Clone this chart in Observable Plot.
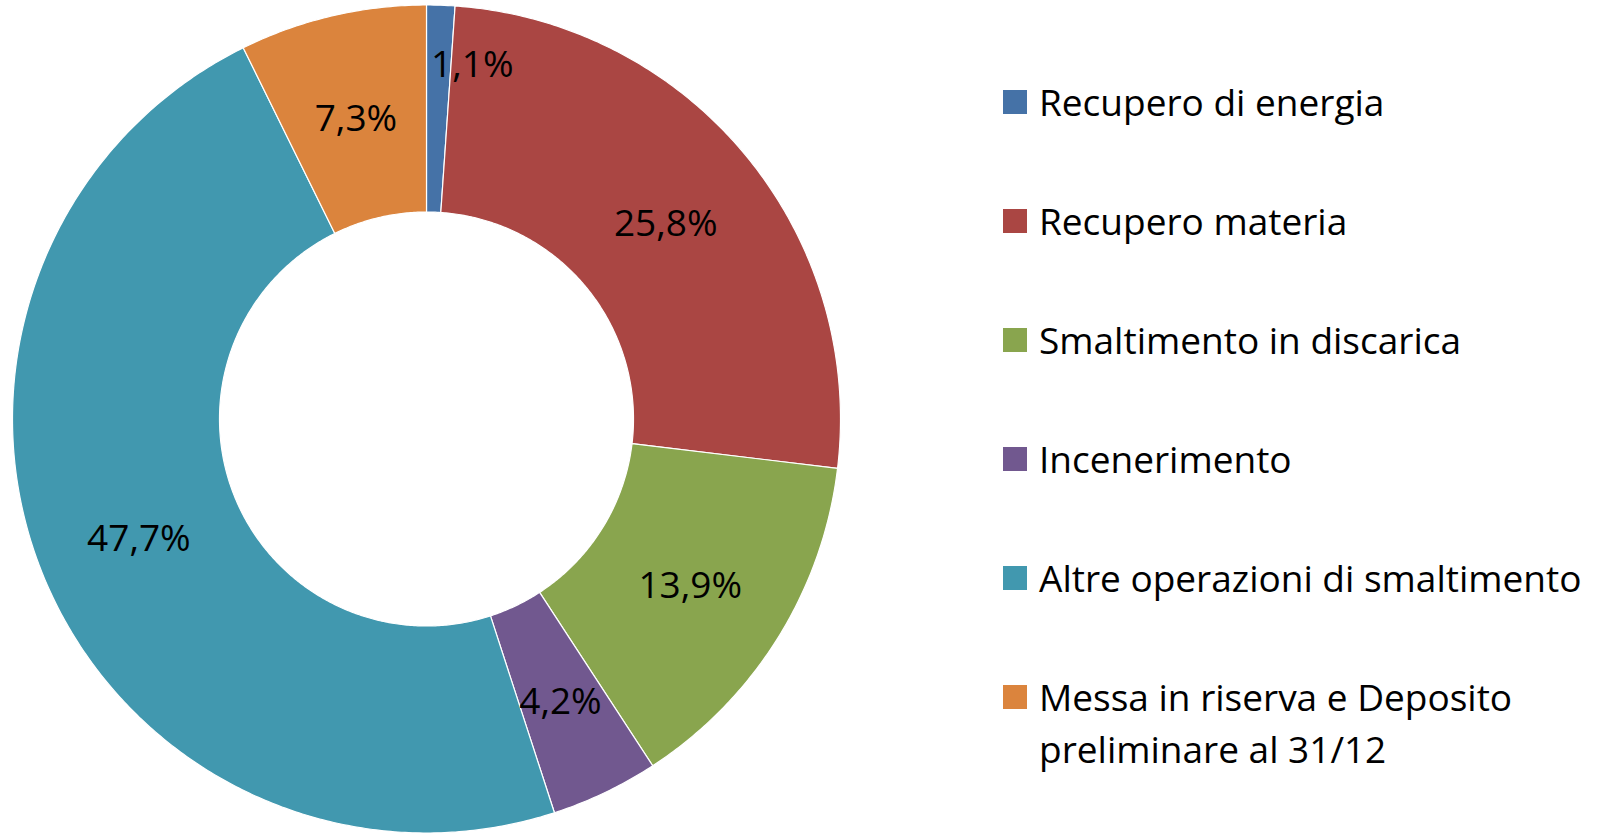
<!DOCTYPE html>
<html>
<head>
<meta charset="utf-8">
<script src="https://cdn.jsdelivr.net/npm/d3@7"></script>
<script src="https://cdn.jsdelivr.net/npm/@observablehq/plot@0.6"></script>
<style>
  html, body { margin: 0; padding: 0; background: #fff; }
  #wrap { position: relative; width: 1600px; height: 834px; overflow: hidden; }
  #legend { position: absolute; left: 1003px; top: 76px; width: 597px; font-family: "Open Sans", Lato, sans-serif; font-size: 37px; color: #000; font-variant-ligatures: none; }
  .item { display: flex; align-items: flex-start; margin-bottom: 67px; }
  .sw { width: 24px; height: 24px; flex: none; margin-top: 14px; margin-right: 12px; }
  .lab { line-height: 52px; max-width: 565px; white-space: normal; }
</style>
</head>
<body>
<div id="wrap"><div id="chart"></div><div id="legend"></div></div>
<script>
const categories = [
  "Recupero di energia",
  "Recupero materia",
  "Smaltimento in discarica",
  "Incenerimento",
  "Altre operazioni di smaltimento",
  "Messa in riserva e Deposito preliminare al 31/12"
];
const values = [1.1, 25.8, 13.9, 4.2, 47.7, 7.3];
const labels = ["1,1%", "25,8%", "13,9%", "4,2%", "47,7%", "7,3%"];
const colors = ["#4572A7", "#AA4643", "#89A54E", "#71588F", "#4198AF", "#DB843D"];

const total = d3.sum(values);
const inner = 0.5, outer = 1, mid = (inner + outer) / 2;
let acc = 0;
const slices = values.map((v, i) => {
  const a0 = acc / total * 2 * Math.PI;
  acc += v;
  const a1 = acc / total * 2 * Math.PI;
  const n = Math.max(2, Math.ceil((a1 - a0) / (Math.PI / 360)));
  const ring = [];
  for (let k = 0; k <= n; k++) { const a = a0 + (a1 - a0) * k / n; ring.push([outer * Math.sin(a), outer * Math.cos(a)]); }
  for (let k = n; k >= 0; k--) { const a = a0 + (a1 - a0) * k / n; ring.push([inner * Math.sin(a), inner * Math.cos(a)]); }
  ring.push(ring[0]);
  const am = (a0 + a1) / 2;
  return {
    type: "Feature",
    properties: {category: categories[i], value: v, label: labels[i], color: colors[i], lx: mid * Math.sin(am), ly: mid * Math.cos(am)},
    geometry: {type: "Polygon", coordinates: [ring]}
  };
});
const feats = slices.map(d => d.properties);

const chart = Plot.plot({
  width: 1600,
  height: 834,
  marginLeft: 12,
  marginRight: 760,
  marginTop: 4.5,
  marginBottom: 1.5,
  projection: {type: "reflect-y", domain: {type: "MultiPoint", coordinates: [[-outer, -outer], [outer, outer]]}},
  style: {fontFamily: "'Open Sans', Lato, sans-serif", background: "#fff"},
  marks: [
    Plot.geo(slices, {fill: d => d.properties.color, stroke: "#fff", strokeWidth: 1.2}),
    Plot.text(feats.filter(d => d.value >= 2), {x: "lx", y: "ly", text: "label", fontSize: 37, fill: "#000", dy: 3}),
    Plot.text(feats.filter(d => d.value < 2), {x: "lx", y: "ly", text: "label", fontSize: 37, fill: "#000", dx: 35, dy: -44})
  ]
});
document.getElementById("chart").appendChild(chart);

const legend = document.getElementById("legend");
categories.forEach((c, i) => {
  const item = document.createElement("div");
  item.className = "item";
  const sw = document.createElement("div");
  sw.className = "sw";
  sw.style.background = colors[i];
  const lab = document.createElement("div");
  lab.className = "lab";
  lab.textContent = c;
  item.appendChild(sw);
  item.appendChild(lab);
  legend.appendChild(item);
});
</script>
</body>
</html>
